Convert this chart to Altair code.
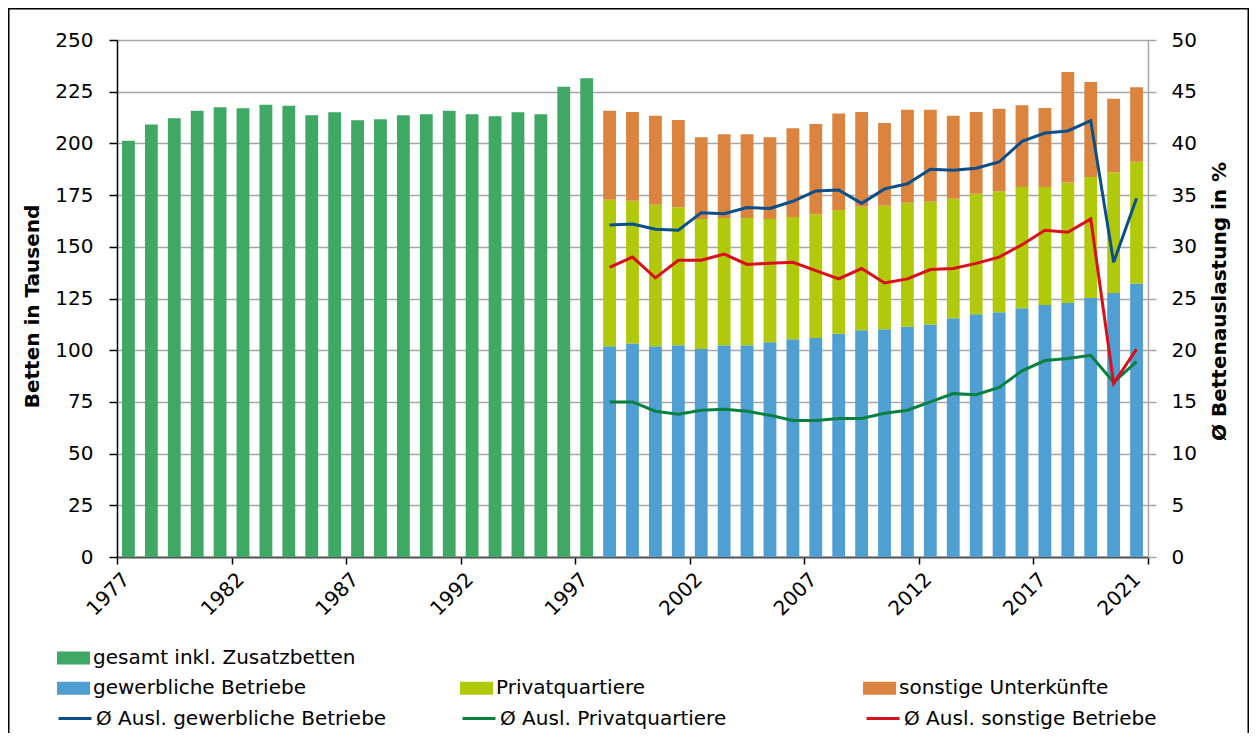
import altair as alt
import pandas as pd

# ---- data ----
years_gesamt = list(range(1977, 1998))
gesamt = [201.3, 209.1, 212.2, 215.8, 217.5, 217.0, 218.7, 218.2, 213.6, 215.1,
          211.2, 211.7, 213.6, 214.1, 215.8, 214.1, 213.1, 215.1, 214.1, 227.4, 231.5]

years = list(range(1998, 2022))
gewerbliche = [101.9, 103.2, 101.9, 102.4, 100.6, 102.4, 102.4, 103.9, 105.3, 105.9,
               107.9, 109.6, 110.1, 111.3, 112.4, 115.4, 117.4, 118.3, 120.3, 121.9,
               122.8, 125.2, 127.7, 132.3]
privat = [70.8, 69.1, 68.4, 66.7, 62.8, 61.5, 61.5, 59.5, 59.1, 59.9,
          59.9, 59.8, 59.8, 60.0, 59.4, 57.8, 58.2, 58.6, 58.6, 57.0,
          58.3, 58.5, 58.4, 58.8]
sonstige = [43.1, 42.9, 43.1, 42.2, 39.6, 40.5, 40.5, 39.6, 42.9, 43.6,
            46.6, 45.8, 40.0, 45.0, 44.5, 40.2, 39.6, 39.9, 39.5, 38.2,
            53.4, 46.0, 35.5, 36.0]

ausl_gew = [32.1, 32.2, 31.7, 31.6, 33.3, 33.2, 33.8, 33.7, 34.4, 35.4,
            35.5, 34.2, 35.6, 36.1, 37.5, 37.4, 37.6, 38.2, 40.2, 41.0,
            41.2, 42.2, 28.5, 34.7]
ausl_priv = [15.0, 15.0, 14.1, 13.8, 14.2, 14.3, 14.1, 13.7, 13.2, 13.2,
             13.4, 13.4, 13.9, 14.2, 15.0, 15.8, 15.7, 16.4, 18.0, 19.0,
             19.2, 19.5, 16.9, 18.9]
ausl_sonst = [28.0, 29.0, 27.0, 28.7, 28.7, 29.3, 28.3, 28.4, 28.5, 27.7,
              26.9, 27.9, 26.5, 26.9, 27.8, 27.9, 28.4, 29.0, 30.2, 31.6,
              31.4, 32.7, 16.8, 20.1]

cat_gesamt = ["gesamt inkl. Zusatzbetten"]
cat_bars = ["gewerbliche Betriebe", "Privatquartiere", "sonstige Unterkünfte"]
cat_lines = ["Ø Ausl. gewerbliche Betriebe", "Ø Ausl. Privatquartiere", "Ø Ausl. sonstige Betriebe"]
x_ticks = [1977, 1982, 1987, 1992, 1997, 2002, 2007, 2012, 2017, 2022]

col_gesamt = ["#3ea864"]
col_bars = ["#4f9fd2", "#b1c90b", "#db843f"]
col_lines = ["#0b4f8a", "#0a8040", "#d9101a"]

# ---- tables ----
df_g = pd.DataFrame({"Jahr": years_gesamt, "Wert": gesamt, "Kategorie": cat_gesamt[0]})
rows = []
for i, y in enumerate(years):
    for r, (name, vals) in enumerate(zip(cat_bars, [gewerbliche, privat, sonstige])):
        rows.append({"Jahr": y, "Kategorie": name, "Wert": vals[i], "Rang": r})
df_s = pd.DataFrame(rows)
rows = []
for name, vals in zip(cat_lines, [ausl_gew, ausl_priv, ausl_sonst]):
    for y, v in zip(years, vals):
        rows.append({"Jahr": y, "Serie": name, "Wert": v})
df_l = pd.DataFrame(rows)

FONT = "DejaVu Sans"
xscale = alt.Scale(domain=[1977, 2022], nice=False, zero=False)
xaxis = alt.Axis(
    values=x_ticks, title=None, grid=False,
    labelExpr="datum.value == 2022 ? '2021' : toString(datum.value)",
    labelAngle=315, labelAlign="right", labelBaseline="middle",
    labelFontSize=20, labelColor="#000000", labelPadding=12,
    labelOffset={"condition": {"test": "datum.value == 2022", "value": -11}, "value": 9},
    tickSize=7, tickColor="#000000", tickWidth=1.5,
    domainColor="#595959", domainWidth=2, labelFlush=False, labelOverlap=False,
)
yscale_l = alt.Scale(domain=[0, 250], nice=False, zero=True)
yaxis_l = alt.Axis(
    values=list(range(0, 251, 25)), title="Betten in Tausend",
    titleFontSize=20, titleFontWeight="bold", titleColor="#000000",
    titleAngle=270, titleX=-85, titleY=266, titleAlign="center", titleBaseline="middle",
    labelFontSize=20, labelColor="#000000", labelPadding=16,
    tickSize=8, tickColor="#000000", tickWidth=1.5,
    domainColor="#000000", domainWidth=1.5,
    grid=True, gridColor="#a6a6a6", gridWidth=1.5,
)
yscale_r = alt.Scale(domain=[0, 50], nice=False, zero=True)
yaxis_r = alt.Axis(
    orient="right", values=list(range(0, 51, 5)), title="Ø Bettenauslastung in %",
    titleFontSize=20, titleFontWeight="bold", titleColor="#000000",
    titleAngle=270, titleX=71, titleY=261, titleAlign="center", titleBaseline="middle",
    labelFontSize=20, labelColor="#000000", labelPadding=15,
    tickSize=8, tickColor="#a6a6a6", tickWidth=1.5,
    domainColor="#a6a6a6", domainWidth=1.5, grid=False,
)

rect_sym = "M-1,-0.394H1V0.394H-1Z"

def leg(x, y, cols, colpad, stroke=False):
    kw = dict(orient="none", legendX=x, legendY=y, title=None, columns=cols,
              columnPadding=colpad, gridAlign="all", labelFontSize=20,
              labelColor="#000000", labelOffset=3, labelLimit=500, padding=0,
              symbolSize=1089)
    if stroke:
        kw.update(symbolType="stroke", symbolStrokeWidth=3)
    else:
        kw.update(symbolType=rect_sym, symbolStrokeWidth=0, symbolOpacity=1)
    return alt.Legend(**kw)

green = alt.Chart(df_g).transform_calculate(
    x0="datum.Jahr + 0.22", x1="datum.Jahr + 0.78", z="0"
).mark_rect().encode(
    x=alt.X("x0:Q", scale=xscale, axis=xaxis),
    x2="x1:Q",
    y=alt.Y("Wert:Q", scale=yscale_l, axis=yaxis_l),
    y2="z:Q",
    fill=alt.Fill("Kategorie:N", scale=alt.Scale(domain=cat_gesamt, range=col_gesamt),
                  legend=leg(-60, 601.5, 1, 0)),
)

stacked = alt.Chart(df_s).transform_calculate(
    x0="datum.Jahr + 0.22", x1="datum.Jahr + 0.78"
).transform_stack(
    stack="Wert", groupby=["Jahr"], as_=["y0", "y1"],
    sort=[alt.SortField("Rang", order="ascending")]
).mark_rect().encode(
    x=alt.X("x0:Q", scale=xscale, axis=xaxis),
    x2="x1:Q",
    y=alt.Y("y0:Q", scale=yscale_l, axis=yaxis_l),
    y2="y1:Q",
    color=alt.Color("Kategorie:N", scale=alt.Scale(domain=cat_bars, range=col_bars),
                    legend=leg(-60, 631.5, 3, 154)),
)

bars = alt.layer(green, stacked)

lines = alt.Chart(df_l).transform_calculate(
    xm="datum.Jahr + 0.5"
).mark_line(strokeWidth=3).encode(
    x=alt.X("xm:Q", scale=xscale, axis=xaxis),
    y=alt.Y("Wert:Q", scale=yscale_r, axis=yaxis_r),
    stroke=alt.Stroke("Serie:N", scale=alt.Scale(domain=cat_lines, range=col_lines),
                      legend=leg(-60, 660.5, 3, 69, stroke=True)),
)

frame = alt.Chart(alt.Data(values=[{"f": 1}])).mark_rect(
    fillOpacity=0, stroke="#000000", strokeWidth=1.5
).encode(
    x=alt.value(-108.25), x2=alt.value(1131.25),
    y=alt.value(-31.25), y2=alt.value(760),
)

chart = alt.layer(bars, lines, frame).resolve_scale(y="independent").properties(
    width=1031, height=517,
    autosize=alt.AutoSizeParams(type="none"),
    padding={"left": 109, "top": 32, "right": 101, "bottom": 176},
).configure(font=FONT).configure_view(stroke=None)

chart.save("out.html", embed_options={"renderer": "svg", "actions": False})
